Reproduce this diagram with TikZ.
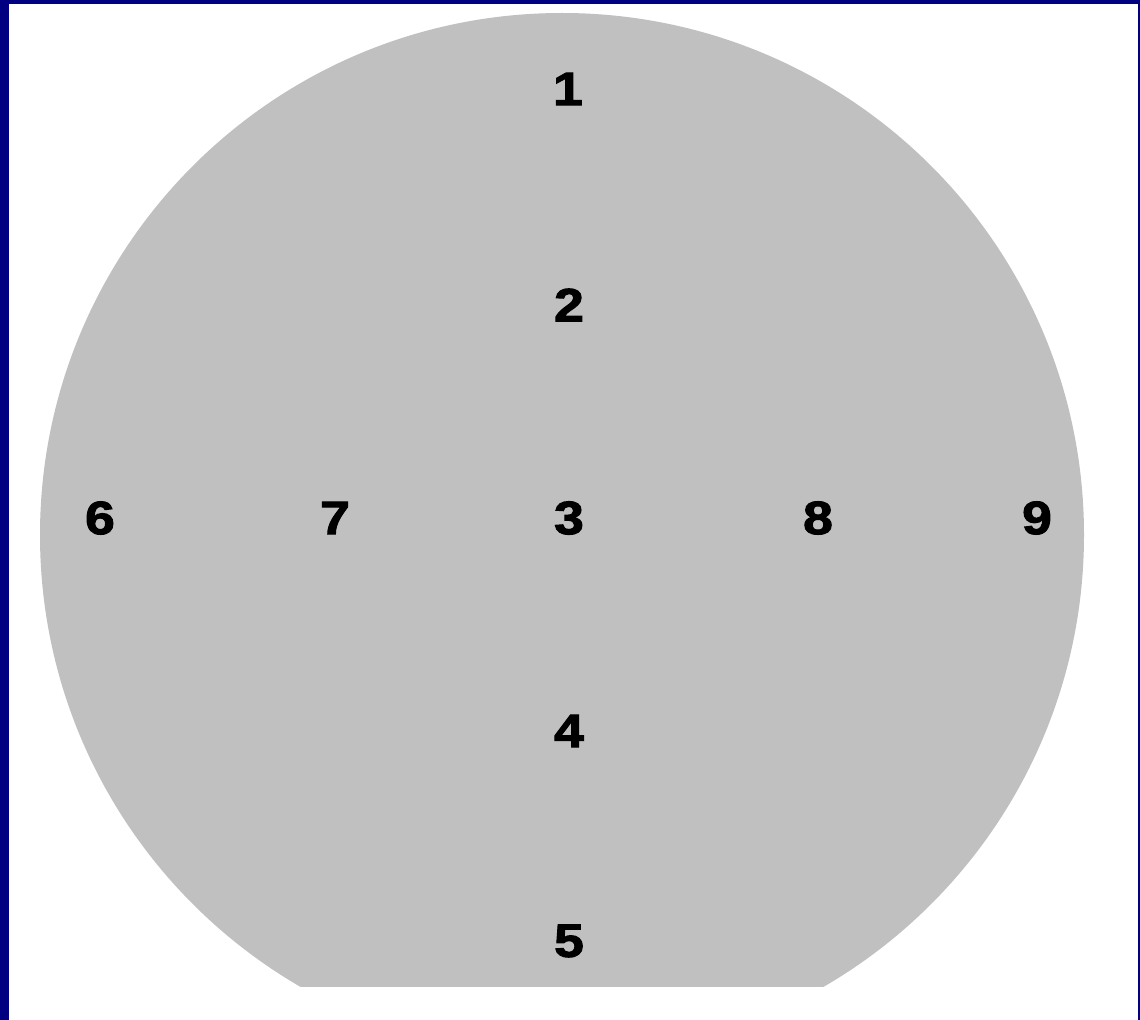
\documentclass[tikz,border=0pt]{standalone}
\usepackage{fontspec}
\setmainfont{Liberation Sans}
\newfontfamily\heavy[FakeBold=2.2,FakeStretch=1.15]{Liberation Sans Bold}
\definecolor{frame}{HTML}{000080}
\definecolor{disc}{HTML}{C0C0C0}
\begin{document}
\begin{tikzpicture}[x=0.75pt,y=-0.75pt,
  lbl/.style={font=\fontsize{35}{35}\heavy, text=black, inner sep=0pt, anchor=center}]
\useasboundingbox (0,0) rectangle (1140,1020);
\fill[white] (0,0) rectangle (1140,1020);
\begin{scope}
  \clip (0,0) rectangle (1140,986);
  \fill[disc] (562,535) circle[radius=522];
\end{scope}
\fill[frame] (0,0) rectangle (8.5,1020);
\fill[frame] (0,0) rectangle (1140,4);
\fill[frame] (1138,0) rectangle (1140,1020);
\node[lbl] (n1) at (568,89) {1};
\node[lbl] (n2) at (569,305) {2};
\node[lbl] (n3) at (569,518) {3};
\node[lbl] (n4) at (569,731) {4};
\node[lbl] (n5) at (569,941) {5};
\node[lbl] (n6) at (100,518) {6};
\node[lbl] (n7) at (335,518) {7};
\node[lbl] (n8) at (818,518) {8};
\node[lbl] (n9) at (1037,518) {9};
\end{tikzpicture}
\end{document}
